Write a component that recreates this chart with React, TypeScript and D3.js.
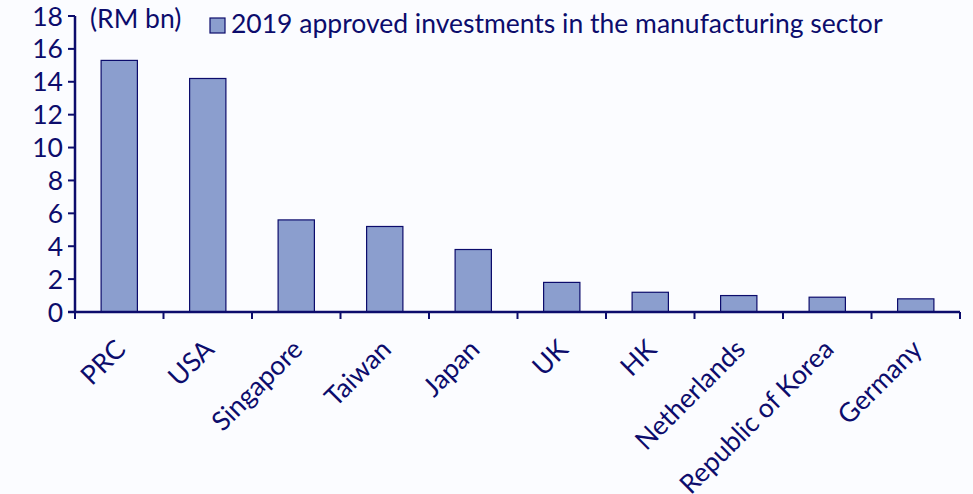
import * as d3 from 'd3';

const categories = ['PRC', 'USA', 'Singapore', 'Taiwan', 'Japan', 'UK', 'HK', 'Netherlands', 'Republic of Korea', 'Germany'];
const values = [15.3, 14.2, 5.6, 5.2, 3.8, 1.8, 1.2, 1.0, 0.9, 0.8];
const yTicks = [0, 2, 4, 6, 8, 10, 12, 14, 16, 18];
const seriesName = '2019 approved investments in the manufacturing sector';
const unitLabel = '(RM bn)';

const width = 973;
const height = 494;
const margin = { left: 75, right: 13, top: 16, bottom: 182 };
const navy = '#0c0c6c';
const barFill = '#8b9ece';
const font = 'Lato, "Open Sans", sans-serif';
const fontSize = 26.5;

export default function App() {
  const x = d3
    .scaleBand<string>()
    .domain(categories)
    .range([margin.left, width - margin.right])
    .paddingInner(0.59)
    .paddingOuter(0.295);

  const y = d3
    .scaleLinear()
    .domain([0, 18])
    .range([height - margin.bottom, margin.top]);

  const step = x.step();
  const y0 = y(0);
  // tick marks sit on the category boundaries
  const boundaries = d3.range(categories.length + 1).map((i) => margin.left + i * step);

  return (
    <svg
      width={width}
      height={height}
      style={{ position: 'absolute', left: 0, top: 0, background: '#fbfcff' }}
      fontFamily={font}
    >
      {categories.map((c, i) => (
        <rect
          key={c}
          x={x(c)}
          y={y(values[i])}
          width={x.bandwidth()}
          height={y0 - y(values[i])}
          fill={barFill}
          stroke={navy}
          strokeWidth={1.2}
        />
      ))}

      {/* y axis */}
      <line x1={margin.left} x2={margin.left} y1={y(18)} y2={y0} stroke={navy} strokeWidth={2.5} />
      {yTicks.map((t) => (
        <g key={t} transform={`translate(0,${y(t)})`}>
          <line x1={margin.left - 7} x2={margin.left} stroke={navy} strokeWidth={2} />
          <text x={margin.left - 12} dy="0.36em" textAnchor="end" fontSize={fontSize} fill={navy}>
            {t}
          </text>
        </g>
      ))}

      {/* x axis */}
      <line x1={margin.left - 7} x2={width - margin.right} y1={y0} y2={y0} stroke={navy} strokeWidth={2.5} />
      {boundaries.map((b, i) => (
        <line key={i} x1={b} x2={b} y1={y0} y2={y0 + 7} stroke={navy} strokeWidth={2} />
      ))}
      {categories.map((c) => (
        <text
          key={c}
          transform={`translate(${(x(c) ?? 0) + x.bandwidth() / 2 + 8},${y0 + 39}) rotate(-45)`}
          textAnchor="end"
          fontSize={fontSize}
          fill={navy}
        >
          {c}
        </text>
      ))}

      {/* unit + legend */}
      <text x={90} y={28} fontSize={fontSize} fill={navy}>
        {unitLabel}
      </text>
      <rect x={210} y={18} width={15} height={15} fill={barFill} stroke={navy} strokeWidth={1.2} />
      <text x={231} y={33} fontSize={fontSize} fill={navy}>
        {seriesName}
      </text>
    </svg>
  );
}
